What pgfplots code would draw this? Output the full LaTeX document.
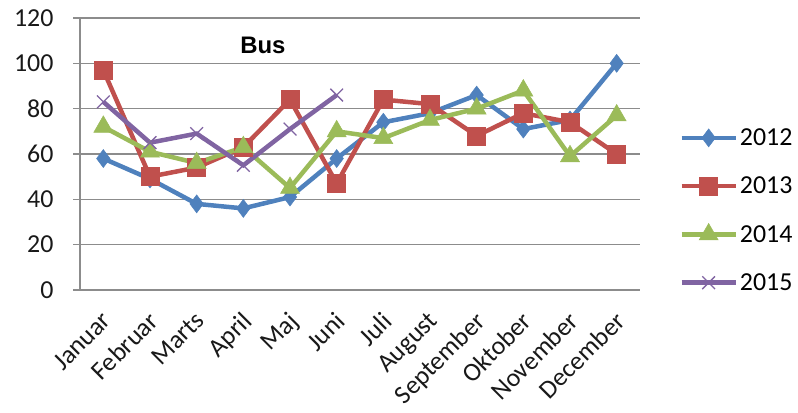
\documentclass[border=0pt]{standalone}
\usepackage{fontspec}
\setmainfont{Carlito}
\newfontfamily\titlefont{Liberation Sans}
\usepackage{pgfplots}
\pgfplotsset{compat=1.18}
\definecolor{c12}{HTML}{4F81BD}
\definecolor{c13}{HTML}{C0504D}
\definecolor{c14}{HTML}{9BBB59}
\definecolor{c15}{HTML}{8064A2}
\definecolor{gridc}{HTML}{8C8C8C}
\begin{document}
\begin{tikzpicture}
\useasboundingbox (0,0) rectangle (798bp,413bp);
\begin{axis}[
  at={(80bp,123bp)}, anchor=south west,
  scale only axis, width=560bp, height=272bp,
  xmin=0.5, xmax=12.5, ymin=0, ymax=120,
  ytick={0,20,...,120},
  xtick={1,...,12},
  xticklabels={Januar,Februar,Marts,April,Maj,Juni,Juli,August,September,Oktober,November,December},
  major x tick style={draw=none},
  extra x ticks={0.5,1.5,...,12.5},
  extra x tick labels={},
  extra x tick style={grid=none, major tick length=7bp, tick style={gridc, line width=1.3bp}},
  tick align=outside,
  major tick length=7bp,
  tick style={gridc, line width=1.3bp},
  ymajorgrids,
  grid style={gridc, line width=1.3bp},
  axis x line*=bottom, axis y line*=left,
  axis line style={gridc, line width=1.3bp},
  /pgf/number format/assume math mode=true,
  tick label style={font=\fontsize{26}{30}\selectfont, text=black!90},
  every y tick label/.append style={anchor=east, xshift=-16bp},
  xticklabel style={rotate=45, anchor=north east, xshift=-8bp, yshift=-4bp},
  legend style={draw=none, fill=none, at={(1.07,0.601)}, anchor=north west,
    font=\fontsize{26}{30}\selectfont, row sep=26bp, inner sep=0pt},
  legend cell align=left,
  legend image code/.code={%
    \draw[mark repeat=2, mark phase=2] plot coordinates {(0bp,0bp) (27bp,0bp) (54bp,0bp)};},
  every axis plot/.append style={line width=4.5bp, mark options={solid}},
]
\addplot[c12, mark=diamond*, mark size=9bp, mark options={line width=0.5bp}] coordinates {
 (1,58) (2,49) (3,38) (4,36) (5,41) (6,58) (7,74) (8,78) (9,86) (10,71) (11,75) (12,100)};
\addplot[c13, mark=square*, mark size=9bp, mark options={line width=0.5bp}] coordinates {
 (1,97) (2,50) (3,54) (4,63) (5,84) (6,47) (7,84) (8,82) (9,68) (10,78) (11,74) (12,60)};
\addplot[c14, mark=triangle*, mark size=11bp, mark options={line width=0.5bp}] coordinates {
 (1,72) (2,61) (3,56) (4,63) (5,45) (6,70) (7,67) (8,75) (9,80) (10,88) (11,59) (12,77)};
\addplot[c15, mark=x, mark size=9bp, mark options={line width=1.3bp}] coordinates {
 (1,83) (2,65) (3,69) (4,55) (5,71) (6,86)};
\legend{2012,2013,2014,2015}
\node[anchor=west, font=\fontsize{24}{28}\selectfont\titlefont\bfseries] at (rel axis cs:0.28,0.90) {Bus};
\end{axis}
\end{tikzpicture}
\end{document}
